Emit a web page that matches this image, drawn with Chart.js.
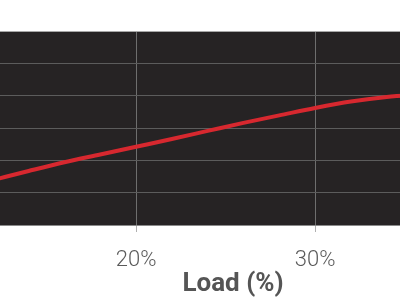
<!DOCTYPE html>
<html>
<head>
<meta charset="utf-8">
<script src="https://cdn.jsdelivr.net/npm/chart.js@4/dist/chart.umd.min.js"></script>
<style>
  html, body { margin: 0; padding: 0; background: #ffffff; overflow: hidden; width: 400px; height: 300px; }
  #wrap { position: absolute; left: 0; top: 0; width: 466px; height: 300px; }
</style>
</head>
<body>
<div id="wrap"><canvas id="c"></canvas></div>
<script>
// Data
const loadPct = [12, 14, 16, 18, 20, 22, 24, 26, 28, 30, 32, 34, 36];
const values  = [1.39, 1.67, 1.94, 2.18, 2.42, 2.66, 2.91, 3.16, 3.39, 3.62, 3.82, 3.96, 4.03];
const xTickValues = [20, 30];
const xTitle = 'Load (%)';

const plotBg = {
  id: 'plotBg',
  beforeDraw(chart) {
    const { ctx, chartArea: a } = chart;
    ctx.save();
    ctx.fillStyle = '#262324';
    ctx.fillRect(a.left, a.top, a.right - a.left, a.bottom - a.top);
    ctx.restore();
  }
};

new Chart(document.getElementById('c'), {
  type: 'line',
  data: {
    datasets: [{
      data: loadPct.map((x, i) => ({ x: x, y: values[i] })),
      borderColor: '#d7282f',
      borderWidth: 4,
      pointRadius: 0,
      tension: 0.4,
      cubicInterpolationMode: 'monotone',
      fill: false
    }]
  },
  options: {
    responsive: true,
    maintainAspectRatio: false,
    animation: false,
    layout: { padding: { top: 31, left: 0, right: 0, bottom: 0 } },
    plugins: { legend: { display: false }, tooltip: { enabled: false } },
    scales: {
      x: {
        type: 'linear',
        min: 12.4,
        max: 38.43,
        afterBuildTicks: (s) => { s.ticks = xTickValues.map(v => ({ value: v })); },
        ticks: {
          callback: (v) => v + '%',
          color: '#5a5a5a',
          font: { family: 'Roboto', size: 22, weight: '300', lineHeight: 1.0 },
          padding: 17,
          maxRotation: 0
        },
        grid: { color: '#6e6e6e', lineWidth: 1, drawTicks: true, tickLength: 7, tickColor: '#b0b0b0' },
        border: { display: true, color: '#8a8a8a', width: 1 },
        title: {
          display: true,
          text: xTitle,
          color: '#555555',
          font: { family: 'Roboto', size: 26, weight: 'bold', lineHeight: 1.0 },
          padding: { top: -17, bottom: 3 }
        }
      },
      y: {
        min: 0,
        max: 6,
        ticks: { display: false, stepSize: 1 },
        grid: {
          drawTicks: false,
          color: (ctx) => (ctx.tick && ctx.tick.value === 6) ? '#a8a8a8' : '#5c5c5c',
          lineWidth: 1
        },
        border: { display: false }
      }
    }
  },
  plugins: [plotBg]
});
</script>
</body>
</html>
